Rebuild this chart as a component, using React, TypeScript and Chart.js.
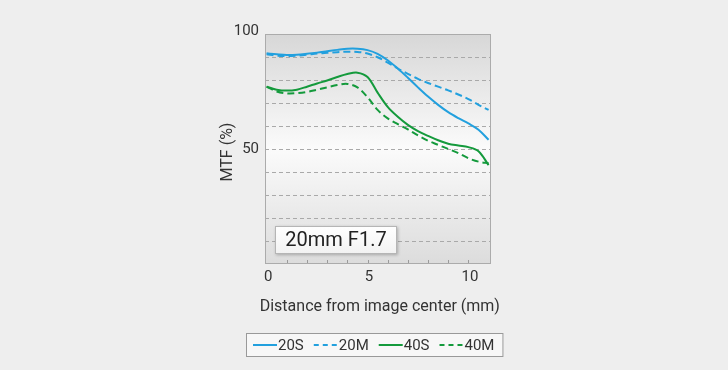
import { useEffect, useRef } from "react";
import { Chart, registerables } from "chart.js";

Chart.register(...registerables);

const distances = [0, 0.5, 1, 1.5, 2, 2.5, 3, 3.5, 4, 4.5, 5, 5.5, 6, 6.5, 7, 7.5, 8, 8.5, 9, 9.5, 10, 10.5, 11];
const mtf20S = [91.6, 91.2, 90.9, 91.0, 91.4, 91.9, 92.5, 93.1, 93.6, 93.6, 93.0, 91.4, 88.6, 85.0, 81.0, 76.8, 72.8, 69.2, 66.0, 63.4, 61.1, 58.4, 54];
const mtf20M = [91.2, 90.6, 90.4, 90.6, 91.0, 91.5, 91.8, 92.1, 92.3, 92.2, 91.5, 89.9, 87.6, 85.0, 82.7, 80.5, 78.7, 77.1, 75.5, 73.7, 71.7, 69.2, 67];
const mtf40S = [77.1, 75.8, 75.4, 75.8, 77.1, 78.5, 79.8, 81.3, 82.6, 83.2, 81.3, 74.5, 68.3, 64.0, 60.5, 57.8, 55.7, 53.8, 52.3, 51.5, 50.8, 49, 43];
const mtf40M = [77.1, 75, 74.2, 74.3, 74.8, 75.8, 76.8, 77.8, 78.3, 76.8, 72.5, 67.0, 63.3, 60.8, 58.5, 55.9, 53.6, 51.8, 50, 48.2, 46, 44.5, 43.8];

const seriesLabels = ["20S", "20M", "40S", "40M"];
const xTickLabels = [0, 5, 10];
const xMinorTicks = [1, 2, 3, 4, 5, 6, 7, 8, 9, 10];
const yTickLabels = [50, 100];
const yGridValues = [10, 20, 30, 40, 50, 60, 70, 80, 90];
const xTitle = "Distance from image center (mm)";
const yTitle = "MTF (%)";
const lensLabel = "20mm F1.7";

const BLUE = "#22a0de";
const GREEN = "#149a3c";
const FONT = "Roboto, 'Liberation Sans', sans-serif";

const decorPlugin = {
  id: "decor",
  beforeDraw(chart: any) {
    const { ctx, chartArea: a, width, height } = chart;
    ctx.save();
    ctx.fillStyle = "#eeeeee";
    ctx.fillRect(0, 0, width, height);
    const g = ctx.createLinearGradient(0, a.top, 0, a.bottom);
    g.addColorStop(0, "#d7d7d7");
    g.addColorStop(0.5, "#fbfbfb");
    g.addColorStop(1, "#dcdcdc");
    ctx.fillStyle = g;
    ctx.fillRect(a.left, a.top, a.right - a.left, a.bottom - a.top);
    ctx.restore();
  },
  beforeDatasetsDraw(chart: any) {
    const { ctx, chartArea: a, scales } = chart;
    const xs = scales.x;
    const ys = scales.y;
    ctx.save();
    ctx.strokeStyle = "#a9a9a9";
    ctx.lineWidth = 1;
    ctx.setLineDash([4, 3]);
    for (const v of yGridValues) {
      const y = Math.round(ys.getPixelForValue(v)) + 0.5;
      ctx.beginPath();
      ctx.moveTo(a.left, y);
      ctx.lineTo(a.right, y);
      ctx.stroke();
    }
    ctx.setLineDash([]);
    ctx.strokeStyle = "#9a9a9a";
    for (const v of xMinorTicks) {
      const x = Math.round(xs.getPixelForValue(v)) + 0.5;
      ctx.beginPath();
      ctx.moveTo(x, a.bottom);
      ctx.lineTo(x, a.bottom - 4);
      ctx.stroke();
    }
    ctx.strokeStyle = "#ababab";
    ctx.strokeRect(Math.round(a.left) + 0.5, Math.round(a.top) + 0.5, Math.round(a.right - a.left) - 1, Math.round(a.bottom - a.top) - 1);
    ctx.restore();
  },
  afterDatasetsDraw(chart: any) {
    const { ctx, chartArea: a, scales } = chart;
    const xs = scales.x;
    const ys = scales.y;
    ctx.save();
    ctx.fillStyle = "#333333";
    // y tick labels
    ctx.font = `15px ${FONT}`;
    ctx.textAlign = "right";
    ctx.textBaseline = "middle";
    for (const v of yTickLabels) {
      const y = ys.getPixelForValue(v) - (v === 100 ? 3 : 0);
      ctx.fillText(String(v), a.left - 6, y);
    }
    // x tick labels
    ctx.textAlign = "center";
    ctx.textBaseline = "middle";
    for (const v of xTickLabels) {
      ctx.fillText(String(v), xs.getPixelForValue(v) + 1.5, a.bottom + 13);
    }
    // x title
    ctx.font = `16px ${FONT}`;
    ctx.fillText(xTitle, (a.left + a.right) / 2 + 2, a.bottom + 43);
    // y title
    ctx.save();
    ctx.translate(a.left - 37, (a.top + a.bottom) / 2 + 3);
    ctx.rotate(-Math.PI / 2);
    ctx.fillText(yTitle, 0, 0);
    ctx.restore();

    // lens label box
    const bx = a.left + 10;
    const by = a.bottom - 38;
    const bw = 122;
    const bh = 28;
    ctx.save();
    ctx.shadowColor = "rgba(0,0,0,0.25)";
    ctx.shadowBlur = 3;
    ctx.shadowOffsetX = 1;
    ctx.shadowOffsetY = 1;
    const bg = ctx.createLinearGradient(0, by, 0, by + bh);
    bg.addColorStop(0, "#ffffff");
    bg.addColorStop(1, "#f2f2f2");
    ctx.fillStyle = bg;
    ctx.fillRect(bx, by, bw, bh);
    ctx.restore();
    ctx.strokeStyle = "#b5b5b5";
    ctx.lineWidth = 1;
    ctx.strokeRect(bx + 0.5, by + 0.5, bw - 1, bh - 1);
    ctx.fillStyle = "#222222";
    ctx.font = `20px ${FONT}`;
    ctx.textAlign = "center";
    ctx.textBaseline = "middle";
    ctx.fillText(lensLabel, bx + bw / 2, by + bh / 2 + 1);

    // legend
    const datasets = chart.data.datasets;
    ctx.font = `15px ${FONT}`;
    const lineLen = 24;
    const itemGap = 10;
    const padL = 7;
    const padR = 9;
    const widths = datasets.map((d: any) => lineLen + 1 + ctx.measureText(d.label).width);
    const total = widths.reduce((s: number, w: number) => s + w, 0) + itemGap * (datasets.length - 1) + padL + padR;
    const cx = (a.left + a.right) / 2 - 3.5;
    const lx = Math.round(cx - total / 2);
    const ly = a.bottom + 69;
    const lh = 24;
    ctx.fillStyle = "#f7f7f7";
    ctx.fillRect(lx, ly, total, lh);
    ctx.strokeStyle = "#999999";
    ctx.strokeRect(lx + 0.5, ly + 0.5, total - 1, lh - 1);
    let x = lx + padL;
    const my = ly + lh / 2;
    datasets.forEach((d: any, i: number) => {
      ctx.strokeStyle = d.borderColor;
      ctx.lineWidth = 2;
      ctx.setLineDash(d.borderDash && d.borderDash.length ? [5, 4] : []);
      ctx.beginPath();
      ctx.moveTo(x, my);
      ctx.lineTo(x + lineLen, my);
      ctx.stroke();
      ctx.setLineDash([]);
      ctx.fillStyle = "#333333";
      ctx.textAlign = "left";
      ctx.fillText(d.label, x + lineLen + 1, my + 1);
      x += widths[i] + itemGap;
    });
    ctx.restore();
  },
};

export default function App() {
  const ref = useRef<HTMLCanvasElement | null>(null);
  useEffect(() => {
    document.body.style.margin = "0";
    const canvas = ref.current!;
    const mk = (vals: number[]) => distances.map((d, i) => ({ x: d, y: vals[i] }));
    const chart = new Chart(canvas, {
      type: "line",
      data: {
        datasets: [
          { label: seriesLabels[0], data: mk(mtf20S), borderColor: BLUE, borderWidth: 2, borderDash: [], pointRadius: 0, tension: 0.35 },
          { label: seriesLabels[1], data: mk(mtf20M), borderColor: BLUE, borderWidth: 2, borderDash: [7, 4], pointRadius: 0, tension: 0.35 },
          { label: seriesLabels[2], data: mk(mtf40S), borderColor: GREEN, borderWidth: 2, borderDash: [], pointRadius: 0, tension: 0.35 },
          { label: seriesLabels[3], data: mk(mtf40M), borderColor: GREEN, borderWidth: 2, borderDash: [7, 4], pointRadius: 0, tension: 0.35 },
        ],
      } as any,
      options: {
        responsive: false,
        animation: false,
        layout: { padding: { left: 265, right: 237.4, top: 34, bottom: 106 } },
        scales: {
          x: { type: "linear", min: -0.08, max: 11.1, display: false },
          y: { type: "linear", min: 0, max: 100, display: false },
        },
        plugins: { legend: { display: false }, tooltip: { enabled: false } },
      } as any,
      plugins: [decorPlugin],
    });
    return () => chart.destroy();
  }, []);
  return (
    <div style={{ position: "absolute", left: 0, top: 0, width: 728, height: 370 }}>
      <canvas ref={ref} width={728} height={370} style={{ display: "block", width: 728, height: 370 }} />
    </div>
  );
}
